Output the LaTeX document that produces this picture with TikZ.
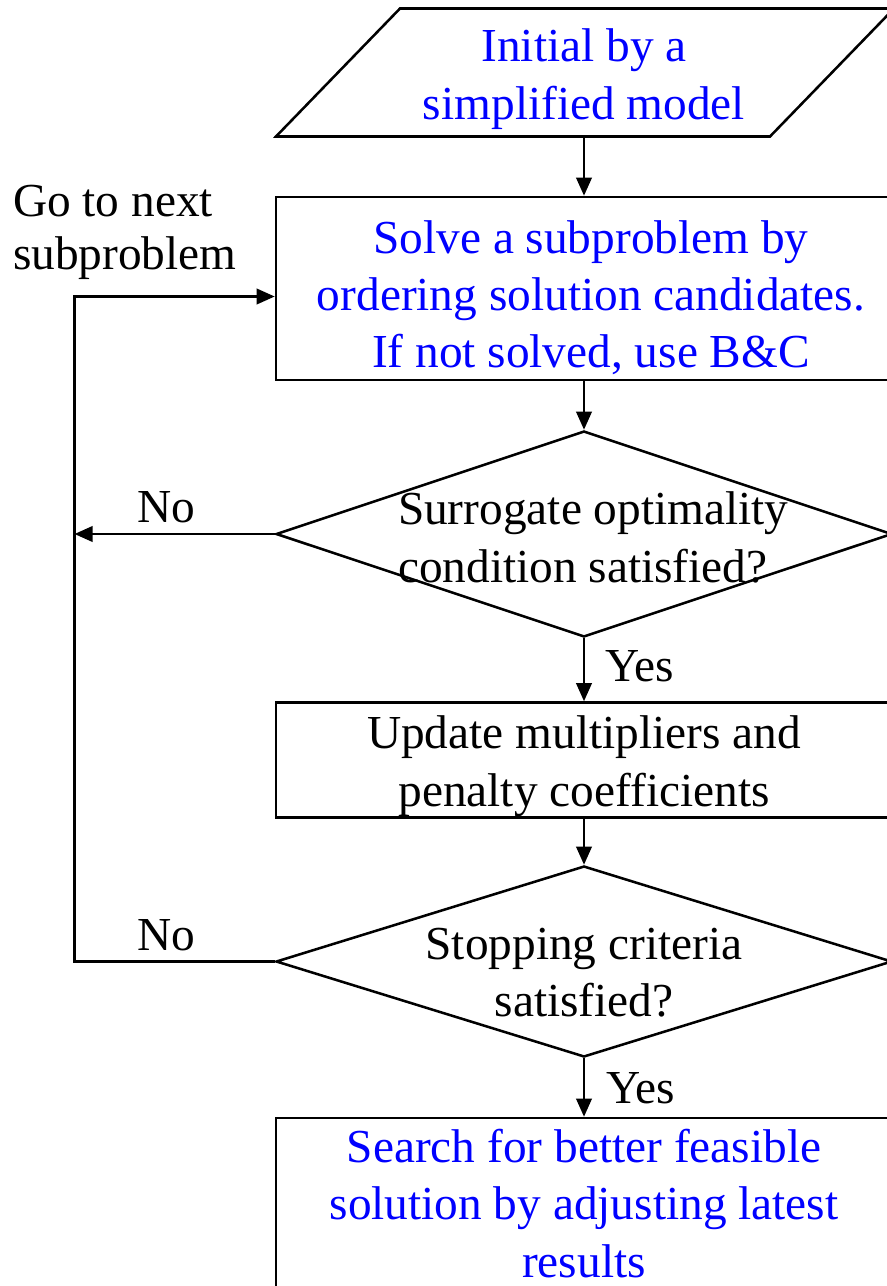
\documentclass[tikz,border=0pt]{standalone}
\usepackage{fontspec}
\setmainfont{Liberation Serif}
\usetikzlibrary{arrows.meta,shapes.geometric}
\definecolor{txtblue}{RGB}{0,0,255}
\begin{document}
\begin{tikzpicture}[x=0.75pt,y=-0.75pt,line width=1.9pt,
  arr/.style={-{Triangle[length=13.5pt,width=11.5pt]}},
  txt/.style={inner sep=0pt,outer sep=0pt,align=center,font=\fontsize{35.5}{43.1}\selectfont},
  bluetxt/.style={txt,text=txtblue},
  boxshape/.style={draw,rectangle,inner sep=0pt,minimum width=462pt},
  diashape/.style={draw,diamond,inner sep=0pt,minimum width=462pt}]
\useasboundingbox (0,0) rectangle (887,1286);
% start shape (parallelogram)
\coordinate (p1) at (276,136.5);
\coordinate (p2) at (400,8.5);
\coordinate (p3) at (894,8.5);
\coordinate (p4) at (770,136.5);
\draw[line join=miter] (p1) -- (p2) -- (p3) -- (p4) -- cycle;
\coordinate (initout) at (584,136.5);
\node[bluetxt] (init) at (584,79) {Initial by a\\simplified model};
% boxes and decisions
\node[boxshape,minimum height=137.25pt] (solve) at (584,288.5) {};
\node[bluetxt] (solvet) at (591,297.7) {Solve a subproblem by\\ordering solution candidates.\\If not solved, use B\&C};
\node[diashape,minimum height=154.5pt] (cond1) at (584,534) {};
\node[txt,align=left,anchor=west] (cond1t) at (398,537.5) {Surrogate optimality\\condition satisfied?};
\node[boxshape,minimum height=86.25pt] (upd) at (584,760) {};
\node[txt] (updt) at (584,766) {Update multipliers and\\penalty coefficients};
\node[diashape,minimum height=143.25pt] (cond2) at (584,961.5) {};
\node[txt] (cond2t) at (584,972.5) {Stopping criteria\\satisfied?};
\node[boxshape,minimum height=150pt] (search) at (584,1218) {};
\node[bluetxt] (searcht) at (584,1203.4) {Search for better feasible\\solution by adjusting latest\\results};
% labels
\node[txt,anchor=base west] (yes1) at (605,681.7) {Yes};
\node[txt,anchor=base west] (yes2) at (606,1103) {Yes};
\node[txt,anchor=base west] (no1) at (137,522.7) {No};
\node[txt,anchor=base west] (no2) at (137,950) {No};
\node[txt,align=left,anchor=west,font=\fontsize{35.5}{40}\selectfont] (goto) at (13,232.5) {Go to next\\subproblem};
% connectors
\draw[arr] (initout) -- (initout |- solve.north);
\draw[arr] (solve.south) -- (cond1.north);
\draw[arr] (cond1.south) -- (upd.north);
\draw[arr] (upd.south) -- (cond2.north);
\draw[arr] (cond2.south) -- (search.north);
\coordinate (loopbot) at (74.5,961.5);
\coordinate (looptop) at (74.5,296.5);
\draw[arr,line join=miter] (cond2.west) -- (loopbot) -- (looptop) -- (looptop -| solve.west);
\draw[arr] (cond1.west) -- (cond1.west -| looptop);
\end{tikzpicture}
\end{document}
